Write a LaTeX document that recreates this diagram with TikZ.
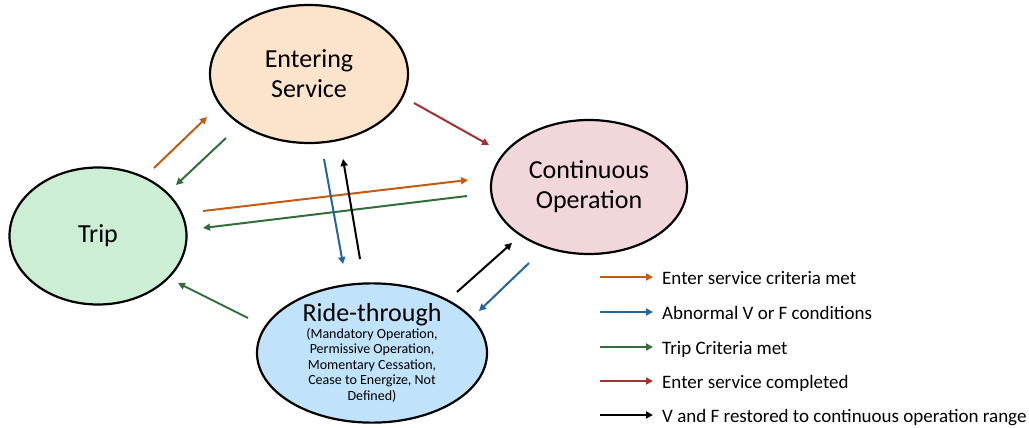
\documentclass[tikz,border=0pt]{standalone}
\usepackage{fontspec}
\setmainfont{Carlito}
\usetikzlibrary{shapes.geometric,arrows.meta}
\definecolor{cOrange}{RGB}{197,90,17}
\definecolor{cBlue}{RGB}{36,100,160}
\definecolor{cGreen}{RGB}{50,110,60}
\definecolor{cRed}{RGB}{160,50,50}
\definecolor{fEnter}{RGB}{252,228,204}
\definecolor{fTrip}{RGB}{204,238,212}
\definecolor{fCont}{RGB}{242,215,218}
\definecolor{fRide}{RGB}{192,226,250}
\begin{document}
\begin{tikzpicture}[x=1pt,y=-1pt,
  state/.style={ellipse,draw=black,line width=2.2pt,inner sep=0pt,align=center,
    font=\fontsize{26}{30}\selectfont},
  flow/.style={line width=2pt,-{Triangle[length=7pt,width=7pt]}},
  legtext/.style={anchor=base west,inner sep=0pt,font=\fontsize{19}{21}\selectfont}]
\useasboundingbox (0,0) rectangle (1029,428);

% states
\node[state,fill=fEnter,minimum width=198pt,minimum height=138pt] (enter) at (309,74) {Entering\\Service};
\node[state,fill=fTrip,minimum width=177pt,minimum height=137pt] (trip) at (98,236) {Trip};
\node[state,fill=fCont,minimum width=196pt,minimum height=134pt] (cont) at (589,187) {Continuous\\Operation};
\node[state,fill=fRide,minimum width=230pt,minimum height=137pt,
  font=\fontsize{14}{15.5}\selectfont] (ride) at (372,353)
  {{\fontsize{26}{30}\selectfont Ride-through}\\[1pt](Mandatory Operation,\\Permissive Operation,\\Momentary Cessation,\\Cease to Energize, Not\\Defined)};

% connector end points
\coordinate (te1) at (154,168); \coordinate (te2) at (207,117);
\coordinate (et1) at (226,138); \coordinate (et2) at (176,185);
\coordinate (ec1) at (414,103); \coordinate (ec2) at (489,145);
\coordinate (tc1) at (203,211); \coordinate (tc2) at (468,180);
\coordinate (ct1) at (467,196); \coordinate (ct2) at (203,228);
\coordinate (er1) at (324,159); \coordinate (er2) at (343,264);
\coordinate (re1) at (360,259); \coordinate (re2) at (343,159);
\coordinate (rt1) at (248,318); \coordinate (rt2) at (178,283);
\coordinate (rc1) at (457,292); \coordinate (rc2) at (512,243);
\coordinate (cr1) at (529,263); \coordinate (cr2) at (479,311);

% transitions
\draw[flow,cOrange] (te1) -- (te2);
\draw[flow,cGreen] (et1) -- (et2);
\draw[flow,cRed] (ec1) -- (ec2);
\draw[flow,cOrange] (tc1) -- (tc2);
\draw[flow,cGreen] (ct1) -- (ct2);
\draw[flow,cBlue] (er1) -- (er2);
\draw[flow,black] (re1) -- (re2);
\draw[flow,cGreen] (rt1) -- (rt2);
\draw[flow,black] (rc1) -- (rc2);
\draw[flow,cBlue] (cr1) -- (cr2);

% legend
\foreach \i/\c/\y/\t in {1/cOrange/277/Enter service criteria met,
                         2/cBlue/312/Abnormal V or F conditions,
                         3/cGreen/347/Trip Criteria met,
                         4/cRed/381/Enter service completed,
                         5/black/415/V and F restored to continuous operation range}{
  \coordinate (la\i) at (600,\y);
  \coordinate (lb\i) at (653,\y);
  \node[legtext] (lt\i) at (662,\y+7) {\t};
  \draw[flow,\c] (la\i) -- (lb\i);
}
\end{tikzpicture}
\end{document}
